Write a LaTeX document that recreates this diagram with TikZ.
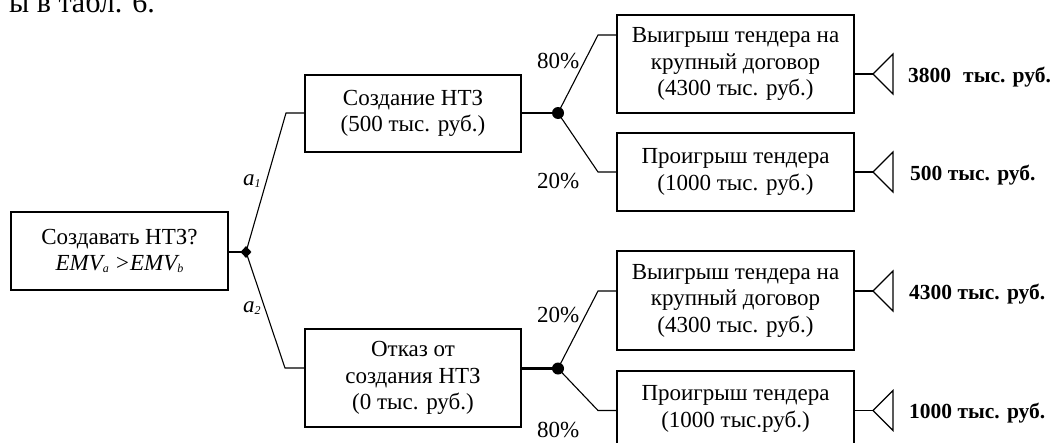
\documentclass[tikz,border=0pt]{standalone}
\usepackage{fontspec}
\setmainfont{Liberation Serif}
\usetikzlibrary{shapes.geometric}
\tikzset{
  box/.style={draw, line width=1.3pt, inner sep=0pt, align=center,
    font=\fontsize{23}{26.5}\selectfont},
  thin/.style={line width=1.1pt},
  stub/.style={line width=2.3pt},
  chance/.style={circle, fill=black, inner sep=0pt, minimum size=12pt},
  decision/.style={diamond, fill=black, inner sep=0pt, minimum width=11pt, minimum height=12pt},
  pay/.style={anchor=base west, inner sep=0pt, font=\fontsize{21.5}{23}\selectfont\bfseries},
  pct/.style={anchor=base west, inner sep=0pt, font=\fontsize{23}{26}\selectfont},
  alab/.style={anchor=base west, inner sep=0pt, font=\fontsize{23}{26}\selectfont\itshape},
}
\newcommand{\subsc}[1]{\raisebox{-2pt}{\fontsize{12}{12}\selectfont\itshape #1}}
\begin{document}
\begin{tikzpicture}[x=1pt,y=-1pt]
\useasboundingbox (0,0) rectangle (1051,442);
% fragment of preceding text
\node[anchor=base east, inner sep=0pt, font=\fontsize{30}{32}\selectfont] (frag) at (155,12) {ы в табл. 6.};

% boxes
\node[box, minimum width=217pt, minimum height=78pt] (root) at (119.5,251)
  {Создавать НТЗ?\\ \textit{EMV\subsc{a} >EMV\subsc{b}}};
\node[box, minimum width=216pt, minimum height=77pt] (b1) at (413,113.5)
  {Создание НТЗ\\(500 тыс. руб.)};
\node[box, minimum width=216pt, minimum height=98pt] (b2) at (413,378)
  {Отказ от\\создания НТЗ\\(0 тыс. руб.)};
\node[box, minimum width=237pt, minimum height=98pt] (c1) at (735.5,64)
  {Выигрыш тендера на\\крупный договор\\(4300 тыс. руб.)};
\node[box, minimum width=237pt, minimum height=78pt] (c2) at (735.5,172)
  {Проигрыш тендера\\(1000 тыс. руб.)};
\node[box, minimum width=237pt, minimum height=99pt] (c3) at (735.5,300.5)
  {Выигрыш тендера на\\крупный договор\\(4300 тыс. руб.)};
\node[box, minimum width=237pt, minimum height=76pt] (c4) at (735.5,409)
  {Проигрыш тендера\\(1000 тыс.руб.)};

% decision and chance nodes
\node[decision] (dm) at (246,252) {};
\node[chance] (ch1) at (558,113) {};
\node[chance] (ch2) at (558,368.5) {};

% bend points
\coordinate (k1) at (286,113);
\coordinate (k2) at (285,368);
\coordinate (u1) at (598,35);
\coordinate (d1) at (598,172);
\coordinate (u2) at (598,291);
\coordinate (d2) at (598,410.5);

% connectors
\draw[stub] (root.east |- dm) -- (dm.center);
\draw[thin] (dm.center) -- (k1) -- (k1 -| b1.west);
\draw[thin] (dm.center) -- (k2) -- (k2 -| b2.west);
\draw[stub] (b1.east |- ch1) -- (ch1.center);
\draw[stub] (b2.east |- ch2) -- (ch2.center);
\draw[thin] (ch1.center) -- (u1) -- (u1 -| c1.west);
\draw[thin] (ch1.center) -- (d1) -- (d1 -| c2.west);
\draw[thin] (ch2.center) -- (u2) -- (u2 -| c3.west);
\draw[thin] (ch2.center) -- (d2) -- (d2 -| c4.west);

% terminal triangles
\coordinate (t1) at (873,74);
\coordinate (t2) at (873,172);
\coordinate (t3) at (873,291);
\coordinate (t4) at (873,410.5);
\foreach \t/\c in {t1/c1,t2/c2,t3/c3,t4/c4}{
  \draw[thin] (\c.east |- \t) -- (\t);
  \draw[thin, line join=miter] (\t) -- ++(20,-20) -- ++(0,40) -- cycle;
}

% payoffs
\node[pay] (p1) at (908,82) {3800\hspace{12pt}тыс. руб.};
\node[pay] (p2) at (910,180) {500 тыс. руб.};
\node[pay] (p3) at (909,299) {4300 тыс. руб.};
\node[pay] (p4) at (909,418.5) {1000 тыс. руб.};

% probabilities
\node[pct] (q1) at (537,68) {80\%};
\node[pct] (q2) at (537,188) {20\%};
\node[pct] (q3) at (537,322) {20\%};
\node[pct] (q4) at (537,437) {80\%};

% alternative labels
\node[alab] (a1) at (243,185) {a\subsc{1}};
\node[alab] (a2) at (243,312) {a\subsc{2}};
\end{tikzpicture}
\end{document}
